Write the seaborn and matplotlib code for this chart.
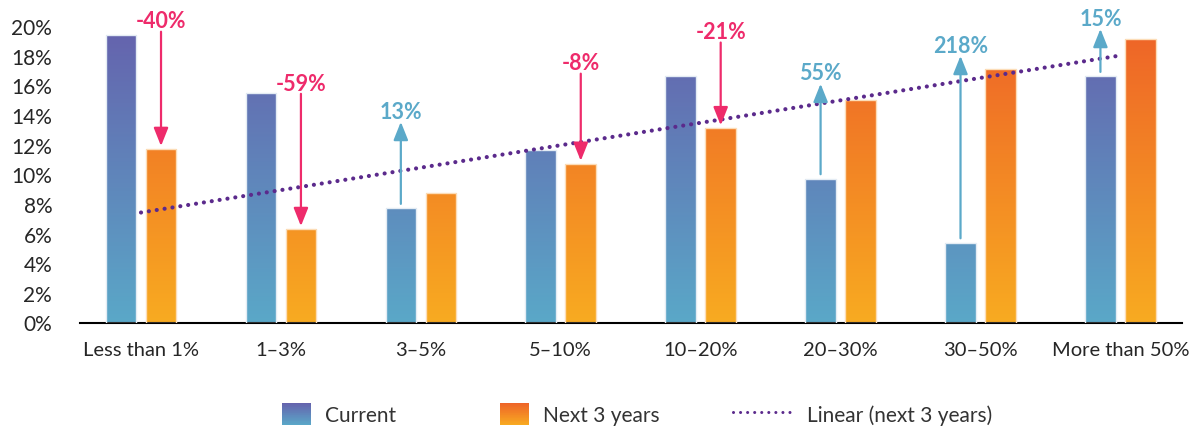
import numpy as np
import pandas as pd
import matplotlib
matplotlib.use("Agg")
import matplotlib.pyplot as plt
import seaborn as sns
from matplotlib.colors import LinearSegmentedColormap
from matplotlib.legend_handler import HandlerBase
from matplotlib.patches import Rectangle
from matplotlib.lines import Line2D

# ---- data -------------------------------------------------------------
categories = ["Less than 1%", "1–3%", "3–5%", "5–10%", "10–20%",
              "20–30%", "30–50%", "More than 50%"]
current = [19.4, 15.5, 7.7, 11.6, 16.6, 9.7, 5.38, 16.6]
next_3y = [11.7, 6.3, 8.7, 10.7, 13.1, 15.0, 17.1, 19.1]
series_names = ["Current", "Next 3 years"]
trend_name = "Linear (next 3 years)"

# vertical placement of the change call-outs (percent units)
callout_y = [20.41, 16.22, 14.33, 17.58, 19.68, 16.9, 18.78, 20.6]

# ---- styling ----------------------------------------------------------
cur_cmap = LinearSegmentedColormap.from_list("cur", ["#5AA8C8", "#6562AD"])
nxt_cmap = LinearSegmentedColormap.from_list("nxt", ["#F8AB21", "#EE6328"])
pink = "#EE2B6B"
blue = "#5BA9C9"
purple = "#5B2A8C"
text_col = "#262626"

sns.set_theme(style="white")
plt.rcParams["font.family"] = ["Lato", "DejaVu Sans"]

W, H = 1197, 427
fig = plt.figure(figsize=(W / 100, H / 100), dpi=100)
ax = fig.add_axes([80 / W, 103.5 / H, 1102 / W, 311.4 / H])

df = pd.DataFrame({
    "band": categories * 2,
    "share": current + next_3y,
    "horizon": [series_names[0]] * len(categories) + [series_names[1]] * len(categories),
})

sns.barplot(data=df, x="band", y="share", hue="horizon", order=categories,
            hue_order=series_names, palette=["#6562AD", "#EE6328"],
            width=0.572, gap=0.235, saturation=1, legend=False, ax=ax,
            errorbar=None)

# replace flat fills with vertical gradients (gradient runs in data space)
grad = np.linspace(0, 1, 256).reshape(-1, 1)
centers = {}
for p in list(ax.patches):
    x0, w, h = p.get_x(), p.get_width(), p.get_height()
    xc = x0 + w / 2
    idx = int(round(xc))
    is_current = xc < idx
    cmap = cur_cmap if is_current else nxt_cmap
    im = ax.imshow(grad, extent=[x0, x0 + w, 0, 20], origin="lower",
                   aspect="auto", cmap=cmap, zorder=2, interpolation="bilinear")
    im.set_clip_path(p)
    p.set_facecolor("none")
    p.set_edgecolor("#E4ECF4" if is_current else "#FCDDB8")
    p.set_linewidth(1.0)
    p.set_zorder(3)
    centers[(idx, "cur" if is_current else "nxt")] = xc

# linear trend of the next-3-years series
sns.regplot(x=np.arange(len(categories)), y=np.array(next_3y), scatter=False,
            ci=None, ax=ax,
            line_kws=dict(color=purple, lw=3, linestyle=(0, (0.01, 1.9)),
                          dash_capstyle="round", zorder=4))

# change call-outs with arrows
for i, (c, n, ly) in enumerate(zip(current, next_3y, callout_y)):
    change = int(round((n / c - 1) * 100))
    if change < 0:
        col = pink
        x = centers[(i, "nxt")]
        tail, tip = (x, ly - 0.8), (x, n + 0.2)
    else:
        col = blue
        x = centers[(i, "cur")]
        tail, tip = (x, c + 0.3), (x, ly - 0.8)
    ax.annotate("", xy=tip, xytext=tail, annotation_clip=False,
                arrowprops=dict(arrowstyle="-|>,head_length=0.55,head_width=0.22",
                                mutation_scale=20, color=col, lw=1.6,
                                shrinkA=0, shrinkB=0), zorder=5)
    ax.text(x, ly - 0.51, f"{change}%", ha="center", va="baseline",
            fontsize=15.5, fontweight="bold", color=col, clip_on=False, zorder=6)

# axes
ax.set_xlim(-0.436, 7.44)
ax.set_ylim(0, 21)
ax.set_yticks(range(0, 21, 2))
ax.set_yticklabels([f"{v}%" for v in range(0, 21, 2)])
ax.set_xlabel("")
ax.set_ylabel("")
ax.grid(False)
sns.despine(ax=ax, left=True)
ax.spines["bottom"].set_color("black")
ax.spines["bottom"].set_linewidth(1.5)
ax.tick_params(axis="y", length=0, pad=20, labelsize=15, labelcolor=text_col)
ax.tick_params(axis="x", length=0, pad=13, labelsize=14.5, labelcolor=text_col)


# legend with gradient swatches
class GradientSwatch(HandlerBase):
    def __init__(self, cmap, frac):
        super().__init__()
        self.cmap = cmap
        self.frac = frac

    def create_artists(self, legend, orig_handle, xdescent, ydescent,
                       width, height, fontsize, trans):
        n = 30
        sw = width * self.frac
        x0 = -xdescent + width - sw
        y0 = -ydescent
        arts = []
        for k in range(n):
            arts.append(Rectangle((x0, y0 + height * k / n), sw, height / n * 1.08,
                                  facecolor=self.cmap((k + 0.5) / n),
                                  edgecolor="none", transform=trans))
        return arts


h_cur = Rectangle((0, 0), 1, 1)
h_nxt = Rectangle((0, 0), 1, 1)
h_lin = Line2D([], [], color=purple, lw=2.2, linestyle=(0, (0.01, 2.3)),
               dash_capstyle="round")
fig.legend([h_cur, h_nxt, h_lin], series_names + [trend_name],
           handler_map={h_cur: GradientSwatch(cur_cmap, 0.48),
                        h_nxt: GradientSwatch(nxt_cmap, 0.48)},
           loc="center left", bbox_to_anchor=(251 / W, 12 / H), ncol=3,
           frameon=False, fontsize=15, handlelength=2.885, handleheight=1.25,
           handletextpad=0.67, columnspacing=3.5, borderpad=0,
           borderaxespad=0, labelcolor="#333333")

fig.savefig("out.png", dpi=100)
